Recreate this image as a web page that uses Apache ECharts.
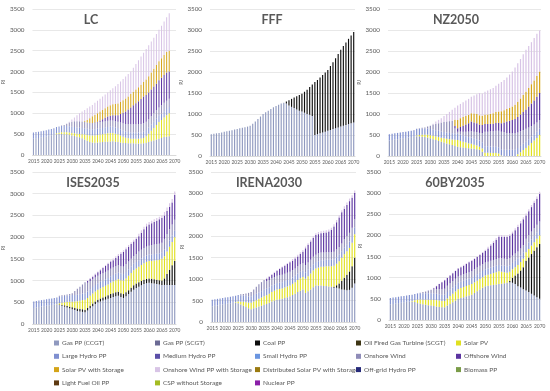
<!DOCTYPE html>
<html><head><meta charset="utf-8">
<script src="https://cdn.jsdelivr.net/npm/echarts@6.0.0/dist/echarts.min.js"></script>
<style>html,body{margin:0;padding:0;background:#fff}#c{width:550px;height:391px}</style>
</head><body><div id="c"></div>
<script>
const years = ['2015','2016','2017','2018','2019','2020','2021','2022','2023','2024','2025','2026','2027','2028','2029','2030','2031','2032','2033','2034','2035','2036','2037','2038','2039','2040','2041','2042','2043','2044','2045','2046','2047','2048','2049','2050','2051','2052','2053','2054','2055','2056','2057','2058','2059','2060','2061','2062','2063','2064','2065','2066','2067','2068','2069','2070'];
const yTicks = [0,500,1000,1500,2000,2500,3000,3500];
const seriesNames = ['Gas PP (CCGT)','Gas PP (SCGT)','Coal PP','Oil Fired Gas Turbine (SCGT)','Solar PV','Large Hydro PP','Medium Hydro PP','Small Hydro PP','Onshore Wind','Offshore Wind','Solar PV with Storage','Onshore Wind PP with Storage','Distributed Solar PV with Storage','Off-grid Hydro PP','Biomass PP','Light Fuel Oil PP','CSP without Storage','Nuclear PP'];
const seriesColors = ['#8f99bf','#6b6a94','#0d0d0d','#3d3514','#e0e020','#7f8fd0','#5b4fa8','#6a95e0','#8f8cb8','#5b34a0','#d4a418','#d8c4e6','#9a7a10','#262a7a','#7a9c48','#5e3a12','#a4bc22','#8a1fa8'];

const hydroBase = [150,150,150,150,150, 150,150,150,150,150, 150,150,150,150,150, 150,150,150,150,150, 150,150,150,150,150, 150,150,150,150,150, 150,150,150,150,150, 150,150,150,150,150, 150,150,150,150,150, 150,150,150,150,150, 150,150,150,150,150, 150];

// LC
const lcGas = [370,380,390,400,410, 420,430,445,460,475, 490,500,505,505,500, 495,485,470,455,440, 425,400,370,340,310, 300,295,300,305,310, 315,320,325,330,320, 310,300,290,285,280, 280,280,278,276,275, 280,290,310,330,350, 370,390,410,430,440, 450];
const lcSolar = [0,0,0,0,0, 0,0,0,0,0, 0,20,30,40,45, 50,55,60,65,70, 80,100,120,140,160, 170,175,180,185,190, 195,200,200,195,190, 185,170,150,130,120, 110,110,110,115,120, 130,160,200,250,300, 350,400,430,470,510, 550];
const lcOnWind = [0,0,0,0,0, 0,0,0,0,0, 0,0,0,10,25, 55,90,120,140,150, 155,155,155,150,150, 150,150,150,150,150, 150,150,150,150,150, 150,160,170,180,190, 200,200,200,200,200, 200,200,200,200,200, 200,200,200,200,200, 200];
const lcOffWind = [0,0,0,0,0, 0,0,0,0,0, 0,0,0,0,0, 0,0,0,0,0, 0,0,0,0,0, 0,10,20,40,60, 80,100,115,130,145, 160,200,250,300,350, 400,450,500,550,600, 640,640,640,640,640, 640,650,660,670,680, 650];
const lcSolarSt = [0,0,0,0,0, 0,0,0,0,0, 0,0,0,0,0, 0,0,0,0,0, 0,0,20,60,110, 160,180,200,210,220, 230,240,250,260,270, 280,290,300,310,315, 320,325,330,335,340, 350,370,390,410,430, 450,460,470,480,490, 500];
const lcWindSt = [0,0,0,0,0, 0,0,0,0,0, 0,0,0,0,0, 0,20,50,90,140, 190,235,265,280,280, 270,290,300,310,320, 330,340,360,385,425, 465,490,510,525,535, 540,575,612,644,675, 700,730,740,740,740, 740,750,780,800,830, 900];

// FFF
const fffGas = [520,530,540,550,560, 575,590,600,615,630, 645,660,670,685,700, 720,770,820,880,940, 1000,1040,1080,1120,1160, 1190,1220,1250,1270,1250, 1200,1170,1140,1110,1080, 1060,1030,1000,980,950, 500,520,540,560,580, 600,620,640,660,680, 700,720,740,760,780, 800];
const fffCoal = [0,0,0,0,0, 0,0,0,0,0, 0,0,0,0,0, 0,0,0,0,0, 0,0,0,0,0, 0,0,0,0,50, 130,190,250,310,370, 420,500,580,660,750, 1260,1290,1330,1370,1410, 1450,1520,1590,1670,1750, 1830,1900,1960,2030,2090, 2150];

// NZ2050
const nzGas = [370,380,390,400,410, 420,430,440,450,460, 470,470,460,450,440, 420,400,380,360,340, 320,300,280,260,240, 220,210,200,190,185, 180,170,160,150,100, 0,0,0,0,0, 0,0,0,0,0, 0,0,0,0,0, 0,0,0,0,0, 0];
const nzSolar = [0,0,0,0,0, 0,0,0,0,0, 20,30,45,55,65, 75,80,85,90,95, 100,110,120,130,145, 160,150,140,130,115, 110,100,90,70,80, 80,80,75,70,70, 60,10,0,0,0, 0,0,40,90,140, 190,250,310,370,430, 500];
const nzOnWind = [0,0,0,0,0, 0,0,0,0,10, 10,10,15,25,45, 75,120,150,180,210, 240,260,280,300,120, 50,70,90,110,130, 150,160,170,180,220, 350,350,360,370,380, 390,420,420,400,390, 390,390,370,350,330, 310,280,250,230,220, 210];
const nzOffWind = [0,0,0,0,0, 0,0,0,0,0, 0,0,0,0,0, 0,0,0,0,0, 0,0,0,0,60, 80,110,140,170,200, 230,220,210,200,190, 180,180,180,180,185, 190,200,230,270,300, 320,340,370,400,430, 460,500,540,570,610, 640];
const nzSolarSt = [0,0,0,0,0, 0,0,0,0,0, 0,0,0,0,0, 0,0,0,0,0, 0,0,0,0,150, 200,210,210,205,200, 200,210,220,220,220, 220,230,240,250,260, 270,285,290,300,310, 320,340,360,380,400, 420,440,460,480,495, 510];
const nzWindSt = [0,0,0,0,0, 0,0,0,0,0, 0,0,0,0,0, 0,20,55,80,105, 140,180,220,260,285, 340,340,350,365,380, 390,430,470,530,530, 550,570,585,600,625, 660,695,720,750,790, 830,890,920,940,970, 1000,1000,1000,1010,1005, 980];

// ISES2035
const isGas = [370,380,390,400,410, 420,430,440,450,455, 440,420,400,380,360, 340,320,300,290,280, 270,310,360,410,460, 500,520,540,560,580, 600,620,640,650,620, 600,640,690,740,790, 830,860,890,920,940, 950,940,930,920,910, 900,900,900,900,900, 900];
const isCoal = [0,0,0,0,0, 0,0,0,0,0, 10,20,30,35,40, 45,50,55,55,60, 60,60,60,60,60, 60,65,70,75,80, 90,90,90,90,90, 90,90,90,95,100, 100,100,100,100,100, 100,100,100,100,100, 100,150,250,350,450, 550];
const isSolar = [0,0,0,0,0, 0,0,0,0,5, 30,50,70,90,110, 130,150,170,190,210, 230,230,230,230,230, 230,235,240,245,250, 260,270,280,290,300, 310,320,330,340,345, 350,360,370,380,390, 400,410,430,450,470, 500,510,520,530,540, 550];
const isOnWind = [0,0,0,0,0, 0,0,0,0,0, 20,20,20,25,30, 45,90,135,175,210, 250,200,190,180,170, 170,170,170,170,170, 170,170,170,170,170, 170,180,180,180,180, 180,200,200,200,200, 200,220,220,220,220, 220,250,250,250,250, 250];
const isOffWind = [0,0,0,0,0, 0,0,0,0,0, 0,0,0,0,0, 0,0,0,0,0, 0,40,50,60,70, 80,100,120,140,160, 170,170,190,220,290, 340,340,340,335,335, 350,350,390,430,470, 490,500,520,540,560, 570,540,530,520,510, 570];
const isWindSt = [0,0,0,0,0, 0,0,0,0,0, 0,0,0,0,0, 0,0,0,0,0, 0,20,20,20,20, 20,20,20,20,20, 20,40,40,40,40, 40,40,40,40,40, 40,60,60,60,60, 60,60,60,60,60, 60,80,80,80,80, 80];

// IRENA2030
const irGas = [370,380,390,400,410, 420,430,440,450,455, 440,410,380,350,320, 300,320,340,360,380, 400,420,450,480,500, 520,530,540,560,580, 600,630,660,700,730, 760,680,720,760,810, 850,850,850,840,840, 830,820,800,800,780, 760,750,740,750,800, 900];
const irCoal = [0,0,0,0,0, 0,0,0,0,0, 0,0,0,0,0, 0,0,0,0,0, 0,0,0,0,0, 0,0,0,0,0, 0,0,0,0,0, 0,0,0,0,0, 0,0,0,0,0, 0,0,20,60,120, 200,280,360,430,500, 600];
const irSolar = [0,0,0,0,0, 0,0,0,0,10, 40,60,90,110,130, 150,160,170,180,190, 200,205,210,220,230, 240,240,240,245,250, 250,260,270,280,290, 290,330,350,370,390, 400,420,440,450,460, 470,480,490,500,520, 540,550,550,550,550, 550];
const irOnWind = [0,0,0,0,0, 0,0,0,0,0, 0,25,35,55,80, 100,130,160,190,210, 230,180,170,170,170, 170,170,170,170,170, 170,170,170,170,170, 170,170,170,170,170, 170,180,180,180,180, 180,180,180,180,180, 180,200,200,200,200, 200];
const irOffWind = [0,0,0,0,0, 0,0,0,0,0, 0,0,0,0,0, 0,0,0,0,0, 0,55,75,80,100, 115,145,175,190,205, 225,220,230,230,245, 270,390,410,430,440, 460,450,450,460,460, 480,520,590,640,690, 730,710,730,740,700, 610];
const irWindSt = [0,0,0,0,0, 0,0,0,0,0, 0,0,0,0,0, 0,0,0,0,0, 0,20,20,20,20, 20,20,20,20,20, 20,40,40,40,40, 40,40,40,40,40, 40,50,50,50,50, 50,50,50,50,50, 50,60,60,60,60, 60];

// 60BY2035
const byGas = [370,380,390,400,410, 420,430,440,440,425, 400,385,370,360,350, 340,330,320,310,300, 300,340,380,420,460, 500,520,540,560,580, 600,640,680,720,760, 800,810,820,830,840, 850,860,870,880,890, 880,850,800,770,730, 700,660,620,580,540, 500];
const byCoal = [0,0,0,0,0, 0,0,0,0,0, 0,0,0,0,0, 0,0,0,0,0, 0,0,0,0,0, 0,0,0,0,0, 0,0,0,0,0, 0,0,0,0,0, 0,0,0,0,30, 120,200,300,400,520, 700,820,940,1060,1180, 1300];
const bySolar = [0,0,0,0,0, 0,0,0,10,40, 80,100,110,120,130, 140,145,150,150,150, 150,170,190,200,215, 230,235,240,245,250, 250,250,250,250,250, 250,260,270,280,290, 300,280,260,240,220, 200,200,200,200,200, 200,200,200,200,200, 200];
const byOnWind = [0,0,0,0,0, 0,0,0,0,0, 0,10,30,45,65, 85,100,110,120,130, 140,150,150,150,150, 150,150,150,150,150, 150,160,160,160,160, 160,160,160,160,160, 160,170,170,170,170, 170,170,170,170,170, 170,180,180,180,180, 180];
const byOffWind = [0,0,0,0,0, 0,0,0,0,0, 0,0,0,0,0, 0,25,70,120,165, 200,185,180,185,185, 185,190,205,220,235, 250,245,250,260,270, 280,310,360,410,460, 510,510,510,520,530, 530,550,580,600,610, 550,560,580,600,620, 650];
const byWindSt = [0,0,0,0,0, 0,0,0,0,0, 0,0,0,0,0, 0,10,10,10,10, 10,10,10,10,10, 10,20,20,20,20, 20,20,20,20,20, 20,40,40,40,40, 40,40,40,40,40, 40,50,50,50,50, 50,50,50,50,50, 50];

const scenarios = [
  {title:'LC', layers:{'Gas PP (CCGT)':lcGas,'Solar PV':lcSolar,'Large Hydro PP':hydroBase,'Onshore Wind':lcOnWind,'Offshore Wind':lcOffWind,'Solar PV with Storage':lcSolarSt,'Onshore Wind PP with Storage':lcWindSt}},
  {title:'FFF', layers:{'Gas PP (CCGT)':fffGas,'Coal PP':fffCoal}},
  {title:'NZ2050', layers:{'Gas PP (CCGT)':nzGas,'Solar PV':nzSolar,'Large Hydro PP':hydroBase,'Onshore Wind':nzOnWind,'Offshore Wind':nzOffWind,'Solar PV with Storage':nzSolarSt,'Onshore Wind PP with Storage':nzWindSt}},
  {title:'ISES2035', layers:{'Gas PP (CCGT)':isGas,'Coal PP':isCoal,'Solar PV':isSolar,'Large Hydro PP':hydroBase,'Onshore Wind':isOnWind,'Offshore Wind':isOffWind,'Onshore Wind PP with Storage':isWindSt}},
  {title:'IRENA2030', layers:{'Gas PP (CCGT)':irGas,'Coal PP':irCoal,'Solar PV':irSolar,'Large Hydro PP':hydroBase,'Onshore Wind':irOnWind,'Offshore Wind':irOffWind,'Onshore Wind PP with Storage':irWindSt}},
  {title:'60BY2035', layers:{'Gas PP (CCGT)':byGas,'Coal PP':byCoal,'Solar PV':bySolar,'Large Hydro PP':hydroBase,'Onshore Wind':byOnWind,'Offshore Wind':byOffWind,'Onshore Wind PP with Storage':byWindSt}}
];

const legendCols = [
  ['Gas PP (CCGT)','Large Hydro PP','Solar PV with Storage','Light Fuel Oil PP'],
  ['Gas PP (SCGT)','Medium Hydro PP','Onshore Wind PP with Storage','CSP without Storage'],
  ['Coal PP','Small Hydro PP','Distributed Solar PV with Storage','Nuclear PP'],
  ['Oil Fired Gas Turbine (SCGT)','Onshore Wind','Off-grid Hydro PP'],
  ['Solar PV','Offshore Wind','Biomass PP']
];

const gridPos = [
  {left:29, top:9, width:147, height:146, tx:91, ty:13},
  {left:210, top:9, width:145, height:147, tx:272, ty:13},
  {left:388, top:9, width:153, height:147, tx:456, ty:13},
  {left:29, top:172, width:147, height:152, tx:93, ty:176},
  {left:211, top:172, width:145, height:150, tx:269, ty:176},
  {left:389, top:172, width:152, height:148, tx:455, ty:176}
];
const legendLeft = [54, 155, 255, 356, 456];

const FONT = 'Lato, "Open Sans", sans-serif';
const TXT = '#595959';
const chart = echarts.init(document.getElementById('c'), null, {renderer:'canvas'});
const grids = [], xAxes = [], yAxes = [], titles = [], series = [];
const used = {};
scenarios.forEach((sc, k) => {
  const g = gridPos[k];
  grids.push({left:g.left, top:g.top, width:g.width, height:g.height, containLabel:false});
  titles.push({text:sc.title, left:g.tx, top:g.ty, textAlign:'center', padding:0,
    textStyle:{fontFamily:FONT, fontSize:12.5, fontWeight:'bold', color:TXT}});
  xAxes.push({type:'category', gridIndex:k, data:years, boundaryGap:true,
    axisTick:{show:false}, axisLine:{lineStyle:{color:'#d9d9d9'}},
    axisLabel:{interval:4, fontSize:4.9, color:TXT, fontFamily:FONT, margin:4, hideOverlap:false}});
  yAxes.push({type:'value', gridIndex:k, min:yTicks[0], max:yTicks[yTicks.length-1], interval:yTicks[1]-yTicks[0],
    name:'PJ', nameLocation:'middle', nameGap:21, nameRotate:90,
    nameTextStyle:{fontSize:5, color:TXT, fontFamily:FONT},
    axisLine:{show:false}, axisTick:{show:false},
    splitLine:{lineStyle:{color:'#d9d9d9', width:0.6}},
    axisLabel:{fontSize:6.3, color:TXT, fontFamily:FONT, margin:8, formatter:(v)=>String(v)}});
  seriesNames.forEach((nm, i) => {
    if (sc.layers[nm]) {
      used[nm] = true;
      series.push({name:nm, type:'bar', stack:'s'+k, xAxisIndex:k, yAxisIndex:k,
        data:sc.layers[nm], barCategoryGap:'56%', itemStyle:{color:seriesColors[i]},
        silent:true, animation:false});
    }
  });
});
seriesNames.forEach((nm, i) => {
  if (!used[nm]) series.push({name:nm, type:'bar', xAxisIndex:0, yAxisIndex:0, data:[], itemStyle:{color:seriesColors[i]}, animation:false});
});
const legends = legendCols.map((col, c) => ({
  type:'plain', orient:'vertical', left:legendLeft[c], top:339, height:55, padding:0, data:col, selectedMode:false,
  icon:'rect', itemWidth:5, itemHeight:5, itemGap:5.3,
  textStyle:{fontSize:6.5, color:TXT, fontFamily:FONT, lineHeight:8, padding:[0,0,0,-2]}
}));
chart.setOption({animation:false, backgroundColor:'#fff', title:titles, grid:grids, xAxis:xAxes, yAxis:yAxes, legend:legends, series:series});
</script></body></html>
